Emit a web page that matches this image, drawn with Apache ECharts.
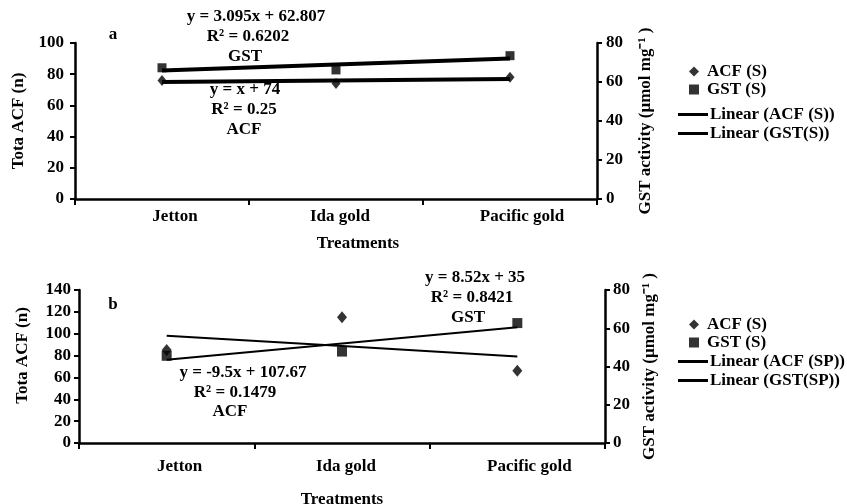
<!DOCTYPE html>
<html>
<head>
<meta charset="utf-8">
<script src="https://cdn.jsdelivr.net/npm/echarts@6/dist/echarts.min.js"></script>
<style>html,body{margin:0;padding:0;background:#fff}#c{width:847px;height:504px}</style>
</head>
<body>
<div id="c"></div>
<script>
// ---- data ----
var categories = ['Jetton', 'Ida gold', 'Pacific gold'];
// panel a
var acfA = [76, 74, 78];
var gstA = [67.3, 66.2, 73.5];
var trendAcfA = [1, 74];          // slope, intercept
var trendGstA = [3.095, 62.807];
// panel b
var acfB = [85, 115, 66];
var gstB = [45.6, 47.8, 62.7];
var trendAcfB = [-9.5, 107.67];
var trendGstB = [8.52, 35];
var leftTicksA = [0, 100, 20];
var rightTicks = [0, 80, 20];
var leftTicksB = [0, 140, 20];

function trend(c) { return categories.map(function (_, i) { return +(c[0] * (i + 1) + c[1]).toFixed(3); }); }

var FONT = 'Liberation Serif';
var txt = { fontFamily: FONT, fontWeight: 'bold', fontSize: 17, color: '#000' };
var axisLineS = { show: true, lineStyle: { color: '#000', width: 2.5 } };
var labelOffsets = [26, 8, 24];

function xAxis(gi, nameGap, namePad, margin) {
  return {
    type: 'category', gridIndex: gi, data: categories, boundaryGap: true,
    axisLine: axisLineS,
    axisTick: { show: true, length: 6, lineStyle: { color: '#000', width: 2 } },
    axisLabel: {
      margin: margin, interval: 0,
      formatter: function (v, i) { return '{c' + i + '|' + v + '}'; },
      rich: {
        c0: Object.assign({ padding: [0, 0, 0, labelOffsets[0]] }, txt),
        c1: Object.assign({ padding: [0, 0, 0, labelOffsets[1]] }, txt),
        c2: Object.assign({ padding: [0, 0, 0, labelOffsets[2]] }, txt)
      }
    },
    splitLine: { show: false },
    name: 'Treatments', nameLocation: 'middle', nameGap: nameGap,
    nameTextStyle: Object.assign({ padding: namePad }, txt)
  };
}
function yAxis(gi, pos, ticks, name, margin, nameGap, namePad) {
  return {
    type: 'value', gridIndex: gi, position: pos, min: ticks[0], max: ticks[1], interval: ticks[2],
    axisLine: axisLineS,
    axisTick: { show: true, length: 5, lineStyle: { color: '#000', width: 2 } },
    axisLabel: Object.assign({ margin: margin }, txt),
    splitLine: { show: false },
    name: name, nameLocation: 'middle', nameRotate: 90, nameGap: nameGap,
    nameTextStyle: Object.assign({ padding: namePad || [0, 0, 0, 0] }, txt)
  };
}
function sc(name, xi, yi, data, sym, size) {
  return { type: 'scatter', name: name, xAxisIndex: xi, yAxisIndex: yi, data: data,
    symbol: sym, symbolSize: size, itemStyle: { color: '#000' }, z: 3 };
}
function ln(name, xi, yi, data, w) {
  return { type: 'line', name: name, xAxisIndex: xi, yAxisIndex: yi, data: data,
    showSymbol: false, symbol: 'none', lineStyle: { color: '#000', width: w }, itemStyle: { color: '#000' }, z: 4, silent: true };
}
function markLegend(top) {
  return { orient: 'vertical', left: 684, top: top, itemWidth: 10, itemHeight: 10, itemGap: 1,
    textStyle: Object.assign({ padding: [0, 0, 0, 3] }, txt), selectedMode: false,
    data: [{ name: 'ACF (S)', icon: 'diamond' }, { name: 'GST (S)', icon: 'rect' }] };
}
function lineLegend(top, names) {
  return { orient: 'vertical', left: 673, top: top, itemWidth: 30, itemHeight: 3, itemGap: 2,
    textStyle: Object.assign({ padding: [0, 0, 0, -3] }, txt), selectedMode: false,
    data: names.map(function (n) { return { name: n, icon: 'rect' }; }) };
}
function label(x, y, s) {
  return { type: 'text', x: x, y: y, style: { text: s, fontFamily: FONT, fontWeight: 'bold', fontSize: 17,
    fill: '#000', align: 'center', verticalAlign: 'middle' } };
}

var chart = echarts.init(document.getElementById('c'), null, { renderer: 'canvas' });
chart.setOption({
  animation: false,
  backgroundColor: '#fff',
  grid: [
    { left: 75, right: 250, top: 43, height: 156, containLabel: false, outerBoundsMode: 'none' },
    { left: 79, right: 242, top: 290, height: 153, containLabel: false, outerBoundsMode: 'none' }
  ],
  xAxis: [xAxis(0, 36, [0, 0, 0, 44], 9), xAxis(1, 48, [0, 0, 0, 0], 15)],
  yAxis: [
    yAxis(0, 'left', leftTicksA, 'Tota ACF (n)', 11, 44),
    yAxis(0, 'right', rightTicks, 'GST activity (\u03bcmol mg\u207b\u00b9 )', 9, 40),
    yAxis(1, 'left', leftTicksB, 'Tota ACF (n)', 8, 48, [0, 0, 0, 22]),
    yAxis(1, 'right', rightTicks, 'GST activity (\u03bcmol mg\u207b\u00b9 )', 8, 33)
  ],
  legend: [
    markLegend(58),
    lineLegend(101, ['Linear (ACF (S))', 'Linear (GST(S))']),
    markLegend(311),
    lineLegend(348, ['Linear (ACF (SP))', 'Linear (GST(SP))'])
  ],
  series: [
    sc('ACF (S)', 0, 0, acfA, 'diamond', [9, 11]),
    sc('GST (S)', 0, 1, gstA, 'rect', [9, 9]),
    ln('Linear (ACF (S))', 0, 0, trend(trendAcfA), 4),
    ln('Linear (GST(S))', 0, 1, trend(trendGstA), 4),
    sc('ACF (S)', 1, 2, acfB, 'diamond', [10, 12]),
    sc('GST (S)', 1, 3, gstB, 'rect', [10, 10]),
    ln('Linear (ACF (SP))', 1, 2, trend(trendAcfB), 2),
    ln('Linear (GST(SP))', 1, 3, trend(trendGstB), 2)
  ],
  graphic: [
    label(113, 35, 'a'),
    label(256, 17, 'y = 3.095x + 62.807'),
    label(248, 37, 'R\u00b2 = 0.6202'),
    label(245, 57, 'GST'),
    label(245, 90, 'y = x + 74'),
    label(244, 110, 'R\u00b2 = 0.25'),
    label(244, 130, 'ACF'),
    label(113, 305, 'b'),
    label(475, 278, 'y = 8.52x + 35'),
    label(472, 298, 'R\u00b2 = 0.8421'),
    label(468, 318, 'GST'),
    label(243, 373, 'y = -9.5x + 107.67'),
    label(235, 393, 'R\u00b2 = 0.1479'),
    label(230, 412, 'ACF')
  ]
});
</script>
</body>
</html>
